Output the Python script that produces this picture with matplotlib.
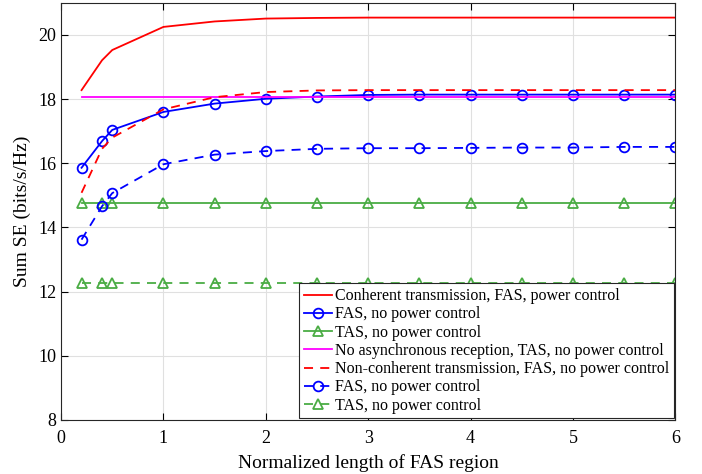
import numpy as np
import matplotlib
matplotlib.use("Agg")
import matplotlib.pyplot as plt

# ------------------------------------------------------------
# Dados
# ------------------------------------------------------------
x_vals = [0.2, 0.4, 0.5, 1, 1.5, 2, 2.5, 3, 3.5, 4, 4.5, 5, 5.5, 6]

coh_fas_pc = [18.28, 19.21, 19.53, 20.25, 20.42, 20.51, 20.53, 20.54, 20.54, 20.54, 20.54, 20.54, 20.54, 20.54]
fas_npc = [15.86, 16.69, 17.04, 17.60, 17.86, 18.01, 18.08, 18.13, 18.14, 18.14, 18.14, 18.14, 18.14, 18.14]
tas_npc = [14.76] * 14
no_async_tas = [18.08] * 14
noncoh_fas_npc = [15.08, 16.45, 16.80, 17.68, 18.06, 18.22, 18.27, 18.28, 18.28, 18.28, 18.28, 18.28, 18.28, 18.28]
fas_npc_nc = [13.62, 14.66, 15.07, 15.97, 16.27, 16.38, 16.45, 16.47, 16.47, 16.48, 16.49, 16.49, 16.51, 16.51]
tas_npc_nc = [12.27] * 14

labels = [
    "Conherent transmission, FAS, power control",
    "FAS, no power control",
    "TAS, no power control",
    "No asynchronous reception, TAS, no power control",
    "Non-conherent transmission, FAS, no power control",
    "FAS, no power control",
    "TAS, no power control",
]

green = "#4aac44"

plt.rcParams["font.family"] = ["Liberation Serif", "DejaVu Serif"]

fig = plt.figure(figsize=(7.02, 4.74), dpi=100)
ax = fig.add_axes([0.087, 0.114, 0.875, 0.88])

ax.plot(x_vals, coh_fas_pc, "-", color="red", lw=1.3, label=labels[0])
ax.plot(x_vals, fas_npc, "-o", color="blue", lw=1.3, ms=7, mfc="none", mew=1.3, label=labels[1])
ax.plot(x_vals, tas_npc, "-^", color=green, lw=1.3, ms=7, mfc="none", mew=1.3, label=labels[2])
ax.plot(x_vals, no_async_tas, "-", color="magenta", lw=1.3, label=labels[3])
ax.plot(x_vals, noncoh_fas_npc, "--", color="red", lw=1.3, dashes=(5, 4), label=labels[4])
ax.plot(x_vals, fas_npc_nc, "--o", color="blue", lw=1.3, ms=7, mfc="none", mew=1.3, dashes=(5, 4), label=labels[5])
ax.plot(x_vals, tas_npc_nc, "--^", color=green, lw=1.3, ms=7, mfc="none", mew=1.3, dashes=(5, 4), label=labels[6])

ax.set_xlim(0, 6)
ax.set_ylim(8, 21)
ax.set_xticks(np.arange(0, 7, 1))
ax.set_yticks(np.arange(8, 21, 2))
ax.tick_params(direction="in", top=True, right=True, labelsize=13, length=5, width=0.8)
ax.tick_params(axis="x", pad=7)
ax.grid(True, color="#e0e0e0", lw=0.8)
ax.set_axisbelow(True)
for sp in ax.spines.values():
    sp.set_linewidth(0.8)
    sp.set_color("#262626")

ax.set_xlabel("Normalized length of FAS region", fontsize=14, labelpad=5)
ax.set_ylabel("Sum SE (bits/s/Hz)", fontsize=14, labelpad=5)

leg = ax.legend(loc="lower right", fontsize=11.5, handlelength=1.8, handletextpad=0.15,
                labelspacing=0.14, borderpad=0.3, borderaxespad=0.1,
                fancybox=False, framealpha=1, edgecolor="#262626")
leg.get_frame().set_linewidth(0.8)

fig.savefig("out.png", dpi=100)
